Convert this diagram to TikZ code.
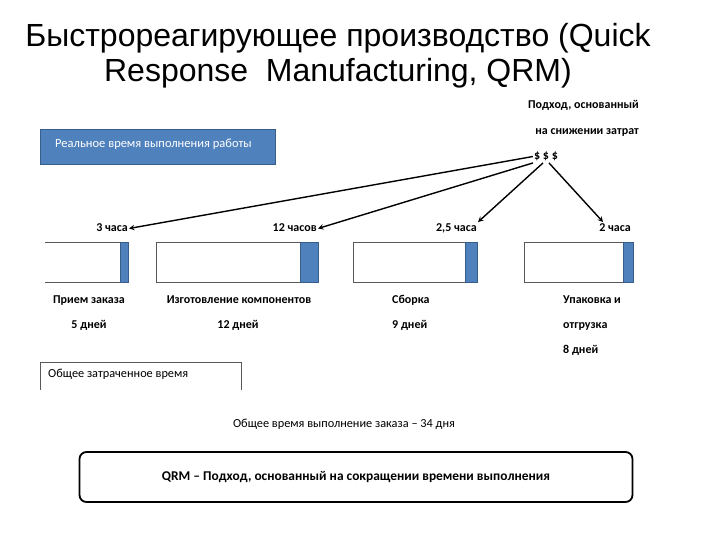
\documentclass[tikz,border=0pt]{standalone}
\usepackage{fontspec}
\setmainfont{Carlito}
\newfontfamily\titlefont{Liberation Sans}
\usetikzlibrary{arrows, positioning}
\definecolor{barblue}{HTML}{4F81BD}
\definecolor{bardark}{HTML}{385D8A}
\tikzset{
  lbl/.style={font=\fontsize{12}{14}\selectfont\bfseries, inner sep=1pt, text height=8pt, text depth=2.5pt, yshift=-1.5pt},
  note/.style={font=\fontsize{12.3}{14}\selectfont, inner sep=1pt, text height=8pt, text depth=2.5pt},
  frame/.style={draw=black!65, line width=0.8pt},
  endblock/.style={fill=barblue, draw=bardark, line width=0.4pt},
  conn/.style={->, line width=1.4pt}
}

\begin{document}
\begin{tikzpicture}[>=stealth, x=1pt, y=-1pt]
        \useasboundingbox (0,0) rectangle (720,540);
        % title
        \node[font=\titlefont\fontsize{32}{36}\selectfont] (T1) at (338,38) {Быстрореагирующее производство (Quick};
        \node[font=\titlefont\fontsize{32}{36}\selectfont] (T2) at (338,73) {Response\ \ Manufacturing, QRM)};
        % blue box
        \draw[fill=barblue, draw=bardark] (40,129) rectangle (275,164);
        \node[font=\fontsize{12.5}{14}\selectfont, text=white, anchor=west, inner sep=0pt] (Real) at (55,144)
              {Реальное время выполнения работы};
        % cost approach
        \node[lbl, anchor=east] (App1) at (640,104) {Подход, основанный};
        \node[lbl, anchor=east] (App2) at (640,130) {на снижении затрат};
        \node[lbl] (Dol) at (546,155) {\$ \$ \$};
        % hours
        \node[lbl, anchor=east] (H1) at (129,227) {3 часа};
        \node[lbl, anchor=east] (H2) at (318,227) {12 часов};
        \node[lbl, anchor=east] (H3) at (478,227) {2,5 часа};
        \node[lbl, anchor=east] (H4) at (632,227) {2 часа};
        \draw[conn] (Dol.west) -- (H1.east);
        \draw[conn] (Dol.south west) -- (H2.east);
        \draw[conn] (Dol.-115) -- (H3.north east);
        \draw[conn] (Dol.-65) -- ([xshift=5pt]H4.north west);
        % bars
        \draw[frame] (45,242) -- (120,242) (45,282) -- (120,282);
        \draw[frame] (156,242) rectangle (300,282);
        \draw[frame] (353,242) rectangle (465,282);
        \draw[frame] (524,242) rectangle (623,282);
        \draw[endblock] (120,242) rectangle (128,282);
        \draw[endblock] (300,242) rectangle (318,282);
        \draw[endblock] (465,242) rectangle (477,282);
        \draw[endblock] (623,242) rectangle (633,282);
        % stages
        \node[lbl] (S1) at (89,299) {Прием заказа};
        \node[lbl] (S2) at (239,299) {Изготовление компонентов};
        \node[lbl, anchor=west] (S3) at (391,299) {Сборка};
        \node[lbl, anchor=west] (S4) at (562,299) {Упаковка и};
        \node[lbl] (D1) at (89,324) {5 дней};
        \node[lbl] (D2) at (238,324) {12 дней};
        \node[lbl, anchor=west] (D3) at (391,324) {9 дней};
        \node[lbl, anchor=west] (S4b) at (562,324) {отгрузка};
        \node[lbl, anchor=west] (D4) at (562,349) {8 дней};
        % total spent
        \draw[frame, line width=0.6pt] (40,390) |- (241,362) -- (241,390);
        \node[note, anchor=west] (Spent) at (47,375) {Общее затраченное время};
        \node[note] (Total) at (344,425) {Общее время выполнение заказа -- 34 дня};
        % QRM
        \node[draw, line width=1.8pt, rounded corners=7pt, minimum width=553pt, minimum height=50pt,
              font=\fontsize{13.4}{16}\selectfont\bfseries] (QRM) at (356,477)
              {QRM -- Подход, основанный на сокращении времени выполнения};
    \end{tikzpicture}
\end{document}
